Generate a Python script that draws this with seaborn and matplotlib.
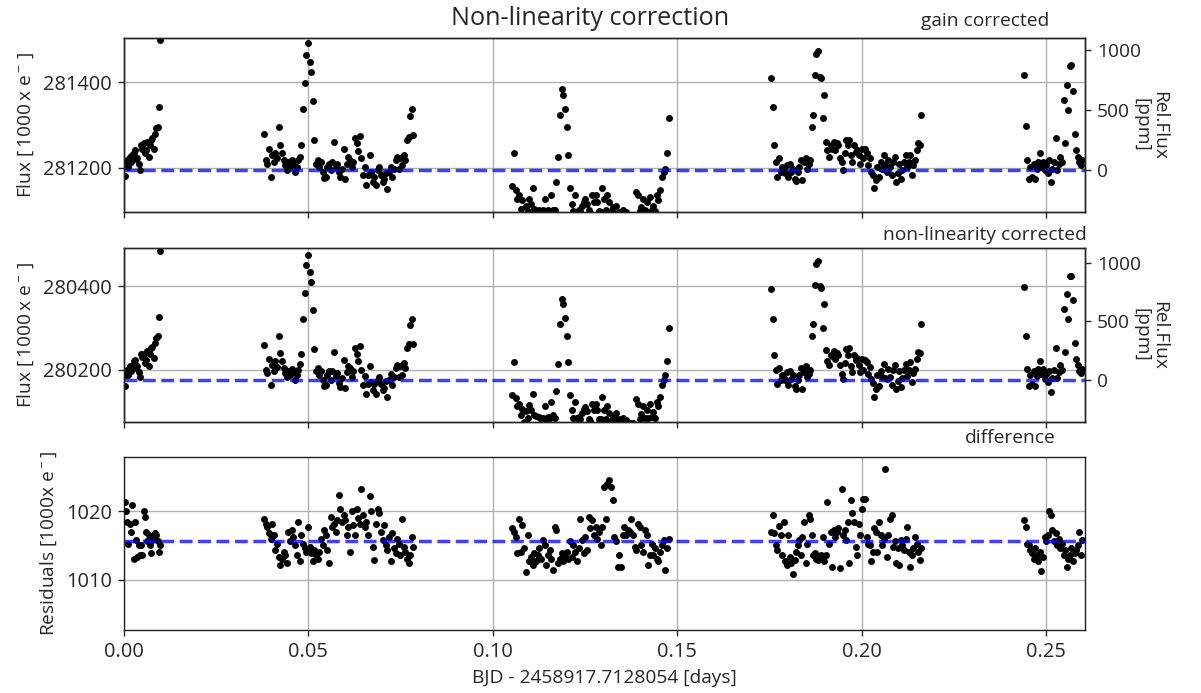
import numpy as np
import matplotlib
matplotlib.use("Agg")
import matplotlib.pyplot as plt
import seaborn as sns

# visit windows (BJD - 2458917.7128054) for the five data chunks
visit_start = [0.0002, 0.0380, 0.1053, 0.1755, 0.2441]
visit_end = [0.0098, 0.0785, 0.1477, 0.2162, 0.2599]

# gain corrected flux [1000x e-]
gain_v1 = [281182, 281208, 281218, 281202, 281226, 281214, 281230, 281234, 281241, 281220,
           281222, 281210, 281195, 281253, 281245, 281257, 281234, 281241, 281261, 281226,
           281253, 281265, 281269, 281245, 281280, 281292, 281296, 281341, 281499]
gain_v2 = [281278, 281218, 281210, 281243, 281179, 281230, 281214, 281234, 281222, 281295,
           281253, 281234, 281218, 281206, 281195, 281214, 281202, 281218, 281210, 281191,
           281202, 281218, 281226, 281253, 281337, 281398, 281464, 281491, 281448, 281423,
           281355, 281264, 281210, 281218, 281202, 281214, 281191, 281177, 281179, 281202,
           281210, 281195, 281214, 281261, 281202, 281210, 281191, 281179, 281198, 281243,
           281175, 281210, 281226, 281218, 281202, 281214, 281269, 281257, 281239, 281275,
           281222, 281183, 281202, 281161, 281183, 281231, 281191, 281167, 281179, 281159,
           281195, 281202, 281183, 281167, 281175, 281187, 281150, 281191, 281202, 281179,
           281198, 281218, 281226, 281198, 281222, 281206, 281230, 281218, 281265, 281273,
           281320, 281337, 281277]
gain_v3 = [281158, 281235, 281148, 281128, 281136, 281105, 281124, 281090, 281112, 281100,
           281128, 281116, 281153, 281105, 281101, 281080, 281101, 281096, 281101, 281128,
           281085, 281101, 281099, 281137, 281102,
           281101, 281167, 281226, 281323, 281384, 281370, 281337, 281295, 281231, 281154,
           281116,
           281100, 281136, 281096, 281101, 281100, 281112, 281120, 281128, 281116, 281101,
           281094, 281136, 281120,
           281136, 281120, 281099, 281096, 281153, 281128, 281102, 281136, 281120, 281100,
           281109, 281095, 281112, 281090, 281096, 281080, 281101, 281092, 281096, 281085,
           281090, 281075, 281088, 281082, 281144, 281136, 281100, 281109, 281128, 281101,
           281120, 281096, 281132, 281101, 281112, 281100, 281136, 281125, 281148, 281179,
           281191, 281198, 281235, 281316]
gain_v4 = [281409, 281341, 281253, 281214, 281179, 281222, 281191, 281202, 281198, 281187,
           281206, 281179, 281210, 281191, 281198, 281175, 281169, 281191, 281202, 281218,
           281171, 281214, 281222, 281198, 281210, 281218, 281296, 281323, 281417, 281466,
           281473, 281413, 281409, 281316, 281370, 281261, 281241, 281226, 281253, 281245,
           281261, 281241, 281257, 281253, 281222, 281214, 281195, 281234, 281265, 281253,
           281265, 281230, 281214, 281253, 281237, 281241, 281230, 281210, 281245, 281222,
           281245, 281234, 281206, 281222, 281191, 281183, 281153, 281171, 281202, 281179,
           281214, 281198, 281230, 281206, 281191, 281218, 281202, 281183, 281214, 281226,
           281167, 281187, 281210, 281175, 281195, 281214, 281230, 281202, 281214, 281230,
           281183, 281206, 281218, 281241, 281257, 281253, 281323]
gain_v5 = [281417, 281298, 281218, 281175, 281202, 281179, 281210, 281175, 281198, 281214,
           281234, 281202, 281214, 281195, 281206, 281187, 281218, 281167, 281198, 281214,
           281269, 281195, 281210, 281226, 281214, 281359, 281257, 281394, 281335, 281437,
           281439, 281380, 281278, 281241, 281226, 281214, 281206, 281218]

# difference gain - non-linearity corrected [1000x e-]
resid_v1 = [1021.4, 1020.1, 1018.5, 1015.3, 1018.2, 1017.0, 1020.9, 1013.1, 1018.5, 1015.8,
            1013.4, 1015.1, 1013.6, 1015.1, 1013.6, 1020.1, 1019.2, 1017.0, 1015.6, 1016.5,
            1015.1, 1013.9, 1015.8, 1016.2, 1016.8, 1016.5, 1015.6, 1014.1, 1015.1]
resid_v2 = [1018.9, 1018.2, 1017.7, 1016.8, 1016.0, 1018.2, 1016.5, 1014.3, 1015.3, 1013.4,
            1012.2, 1013.1, 1014.1, 1013.6, 1012.4, 1017.0, 1015.6, 1017.2, 1016.3, 1015.1,
            1013.6, 1018.5, 1012.7, 1016.5, 1015.3, 1014.6, 1014.1, 1017.7, 1014.8, 1013.9,
            1012.7, 1014.3, 1013.6, 1013.1, 1014.1, 1016.0, 1015.1, 1017.2, 1016.5, 1014.3,
            1012.4, 1019.2, 1017.7, 1018.2, 1017.0, 1018.7, 1022.4, 1020.4, 1018.5, 1019.4,
            1018.7, 1016.5, 1017.7, 1014.1, 1020.1, 1018.0, 1016.5, 1020.4, 1019.0, 1018.2,
            1023.3, 1019.4, 1017.7, 1018.5, 1016.5, 1022.2, 1020.1, 1014.8, 1012.9, 1018.2,
            1020.4, 1019.7, 1017.0, 1015.8, 1018.0, 1015.1, 1014.3, 1016.3, 1012.7, 1016.8,
            1014.6, 1013.9, 1016.0, 1015.3, 1013.6, 1018.9, 1014.8, 1014.1, 1013.1, 1012.4,
            1013.6, 1016.3, 1014.8]
resid_v3 = [1017.5, 1017.0, 1016.3, 1013.9, 1018.9, 1014.1, 1018.0, 1014.6, 1011.2, 1016.5,
            1012.7, 1013.4, 1012.2, 1013.9, 1012.7, 1013.6, 1014.6, 1013.1, 1015.8, 1015.1,
            1012.2, 1013.6, 1014.3, 1013.1, 1011.4, 1017.7, 1017.2, 1012.4, 1013.1, 1013.9,
            1012.7, 1013.4, 1014.1, 1013.1, 1015.6, 1013.4, 1015.1, 1014.1, 1012.7, 1014.6,
            1018.9, 1015.8, 1013.9, 1016.3, 1014.3, 1019.2, 1017.5, 1018.7, 1016.5, 1017.7,
            1016.0, 1017.0, 1015.1, 1017.7, 1023.5, 1018.9, 1024.0, 1024.5, 1023.5, 1021.6,
            1016.3, 1015.6, 1011.9, 1013.6, 1011.9, 1016.5, 1017.7, 1016.5, 1017.2, 1017.0,
            1018.9, 1016.5, 1014.8, 1014.3, 1018.2, 1017.7, 1015.1, 1014.1, 1017.2, 1016.5,
            1012.2, 1013.6, 1015.3, 1013.6, 1014.6, 1013.1, 1012.7, 1014.1, 1015.1, 1015.8,
            1011.4, 1014.6, 1016.0]
resid_v4 = [1017.0, 1019.5, 1016.8, 1015.1, 1014.3, 1017.8, 1016.5, 1013.6, 1018.5, 1012.7,
            1012.2, 1016.5, 1013.4, 1012.4, 1010.8, 1012.9, 1014.1, 1015.1, 1015.8, 1013.6,
            1016.3, 1018.5, 1012.4, 1015.3, 1019.4, 1018.9, 1016.5, 1013.6, 1013.9, 1013.1,
            1012.9, 1013.0, 1013.6, 1016.3, 1012.7, 1013.6, 1021.4, 1015.3, 1017.0, 1011.9,
            1017.2, 1016.3, 1017.0, 1017.5, 1011.8, 1023.2, 1016.5, 1017.2, 1015.8, 1018.5,
            1012.4, 1021.6, 1019.7, 1018.5, 1014.8, 1013.6, 1018.2, 1016.5, 1020.4, 1021.8,
            1021.8, 1016.2, 1015.3, 1015.1, 1012.7, 1014.1, 1017.5, 1017.0, 1014.1, 1018.5,
            1016.5, 1015.1, 1016.0, 1026.1, 1013.4, 1016.5, 1018.9, 1019.4, 1014.8, 1015.6,
            1012.4, 1014.6, 1012.2, 1015.8, 1015.1, 1014.3, 1016.0, 1017.7, 1014.1, 1011.9,
            1013.6, 1014.6, 1016.3, 1015.3, 1014.1, 1012.9, 1014.7]
resid_v5 = [1018.7, 1017.7, 1015.3, 1015.1, 1014.3, 1013.9, 1013.1, 1014.6, 1013.6, 1012.7,
            1014.1, 1011.3, 1013.4, 1016.3, 1015.6, 1016.5, 1020.1, 1019.5, 1017.2, 1015.6,
            1016.8, 1015.1, 1016.0, 1014.6, 1015.3, 1013.6, 1014.3, 1011.9, 1013.1, 1013.6,
            1014.6, 1012.7, 1013.9, 1014.3, 1015.1, 1017.0, 1013.6, 1015.8]

gain_visits = [gain_v1, gain_v2, gain_v3, gain_v4, gain_v5]
resid_visits = [resid_v1, resid_v2, resid_v3, resid_v4, resid_v5]

# median levels (dashed lines)
median_levels = [281194.5, 280176.0, 1015.65]

t_offset = "2458917.7128054"
xlim = (0.0, 0.2606)
ylims = [(281097, 281503), (280075, 280491), (1002.7, 1027.9)]
yticks = [[281200, 281400], [280200, 280400], [1010, 1020]]

# assemble the light curves
time = np.concatenate([np.linspace(s, e, len(v)) for s, e, v in zip(visit_start, visit_end, gain_visits)])
gain = np.concatenate([np.array(v, float) for v in gain_visits])
resid = np.concatenate([np.array(v, float) for v in resid_visits])
nonlin = gain - resid

sns.set_style("ticks")
plt.rcParams['font.family'] = ['Open Sans', 'DejaVu Sans']
plt.rcParams['mathtext.fontset'] = 'custom'
plt.rcParams['mathtext.rm'] = 'Open Sans'
plt.rcParams['mathtext.it'] = 'Open Sans'
plt.rcParams['mathtext.default'] = 'regular'
plt.rcParams['font.size'] = 11

fig = plt.figure(figsize=(1201 / 125, 693 / 125), dpi=125)
rects = [[0.1032, 0.6941, 0.8002, 0.2511],
         [0.1032, 0.3911, 0.8002, 0.2511],
         [0.1032, 0.0909, 0.8002, 0.2496]]
axes = [fig.add_axes(r) for r in rects]

series = [gain, nonlin, resid]
ylabels = [r'Flux [$\,1000\,x\;e^-\,$]', r'Flux [$\,1000\,x\;e^-\,$]', r'Residuals [1000x $e^-$]']

for i, (ax, y) in enumerate(zip(axes, series)):
    med = median_levels[i]
    sns.scatterplot(x=time, y=y, ax=ax, color='k', s=16, linewidth=0, zorder=3)
    ax.axhline(med, color='b', ls='--', lw=2, alpha=0.75, zorder=4)
    ax.set_xlim(xlim)
    ax.set_ylim(ylims[i])
    ax.set_yticks(yticks[i])
    ax.grid(True, color='#b0b0b0', lw=0.8)
    ax.set_ylabel(ylabels[i], fontsize=11)
    ax.tick_params(labelsize=11.5)
    for sp in ax.spines.values():
        sp.set_color('#222222')
    if i < 2:
        ax.tick_params(labelbottom=False)
        ax2 = ax.twinx()
        ax2.set_ylim((np.array(ylims[i]) / med - 1) * 1e6)
        ax2.set_yticks([0, 500, 1000])
        ax2.tick_params(labelsize=11)
        ax2.set_ylabel('Rel.Flux\n[ppm]', rotation=270, fontsize=11,
                       linespacing=1.0, va='center', ha='center')
        ax2.yaxis.set_label_coords(1.068, 0.5)
        ax2.grid(False)

axes[2].set_xlabel('BJD - ' + t_offset + ' [days]', fontsize=11)

fig.text(0.491, 0.974, 'Non-linearity correction', ha='center', va='center', fontsize=14.5)
fig.text(0.820, 0.970, 'gain corrected', ha='center', va='center', fontsize=11)
fig.text(0.820, 0.661, 'non-linearity corrected', ha='center', va='center', fontsize=11)
fig.text(0.841, 0.368, 'difference', ha='center', va='center', fontsize=11)

fig.savefig('out.png', dpi=125)
